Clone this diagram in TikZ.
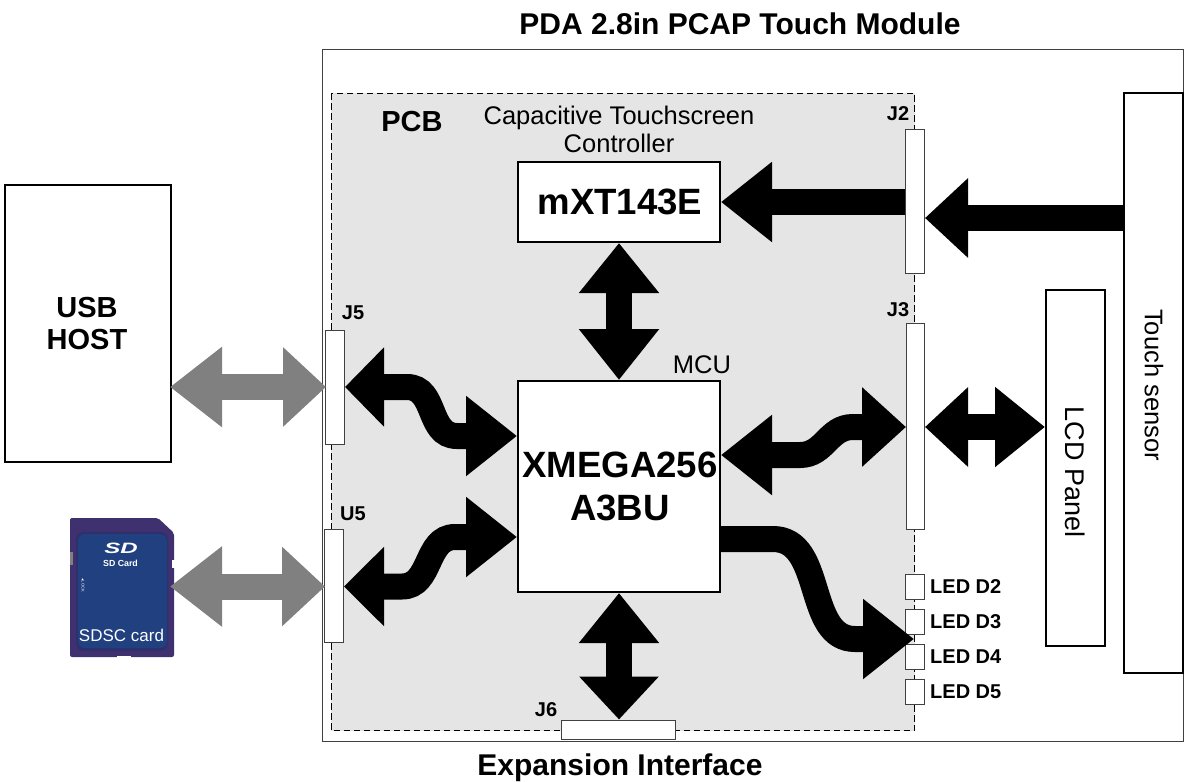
\documentclass[tikz,border=0pt]{standalone}
\usepackage{fontspec}
\setmainfont{Liberation Sans}
\newfontfamily\dejavu{DejaVu Sans}
\usetikzlibrary{arrows.meta}
\definecolor{pcbgray}{HTML}{E5E5E5}
\definecolor{sdout}{HTML}{3F3170}
\definecolor{sdrim}{HTML}{2F2F6B}
\definecolor{sdin}{HTML}{21407F}
\definecolor{fatgray}{HTML}{808080}
\tikzset{
  box/.style={draw=black,fill=white,line width=2pt,inner sep=0pt,align=center,anchor=north west},
  conn/.style={draw=black!75,fill=white,line width=1pt,inner sep=0pt,anchor=north west},
  biglabel/.style={font=\fontsize{36.6}{42.5}\bfseries\selectfont},
  lab/.style={font=\fontsize{20}{22}\bfseries\selectfont},
  plain/.style={font=\fontsize{25.5}{28}\selectfont,align=center},
  title/.style={font=\fontsize{30}{32}\bfseries\selectfont},
  fat/.style={line width=26pt,draw=black,line cap=butt},
  fatboth/.style 2 args={fat,{Triangle[length=#1pt,width=77pt]}-{Triangle[length=#2pt,width=77pt]}},
  fatone/.style={fat,-{Triangle[length=#1pt,width=77pt]}},
  fatgrey/.style={fatboth={52}{43},draw=fatgray}
}
\begin{document}
\begin{tikzpicture}[x=1pt,y=-1pt]
\useasboundingbox (0,0) rectangle (1184,782);
\coordinate (o1) at (322.5,49.5);
\coordinate (o2) at (1183.5,741.5);
\draw[black!75,line width=1pt] (o1) rectangle (o2);
\draw[dash pattern=on 6.5pt off 3.5pt,fill=pcbgray,line width=1pt] (331,93) rectangle (914.5,730.5);
% blocks
\node[box,minimum width=202pt,minimum height=80pt] (mxt) at (517,161) {};
\node[box,minimum width=202pt,minimum height=211pt] (mcu) at (517,380) {};
\node[biglabel] (mxttext) at (620,202) {mXT143E};
\node[biglabel,align=center] (mcutext) at (620,486.5) {XMEGA256\\A3BU};
\node[box,minimum width=166pt,minimum height=277pt] (usb) at (4,184) {};
\node[font=\fontsize{29}{32}\bfseries\selectfont,align=center] (usbtext) at (87,324) {USB\\HOST};
\node[box,minimum width=59pt,minimum height=356pt] (lcd) at (1045,289) {};
\node[box,minimum width=59pt,minimum height=580pt] (touch) at (1123,92) {};
\node[rotate=-90,font=\fontsize{27}{30}\selectfont] (lcdtext) at (1075,472) {LCD Panel};
\node[rotate=-90,plain] (touchtext) at (1154,385) {Touch sensor};
% connectors
\node[conn,minimum width=19pt,minimum height=144pt] (j2) at (905,129) {};
\node[conn,minimum width=18pt,minimum height=206pt] (j3) at (906,323) {};
\node[conn,minimum width=19pt,minimum height=114pt] (j5) at (325,329.5) {};
\node[conn,minimum width=19pt,minimum height=113pt] (u5) at (324,529) {};
\node[conn,minimum width=114pt,minimum height=19pt] (j6) at (561,719.5) {};
\node[conn,minimum width=19pt,minimum height=25pt] (d2) at (905,573.5) {};
\node[conn,minimum width=19pt,minimum height=25pt] (d3) at (905,608.5) {};
\node[conn,minimum width=19pt,minimum height=25pt] (d4) at (905,643.5) {};
\node[conn,minimum width=19pt,minimum height=25pt] (d5) at (905,678.5) {};
% SD card
\fill[sdout,rounded corners=2pt] (70,518) -- (158,518) -- (174,533) -- (174,657) -- (70,657) -- cycle;
\fill[white] (172,560) rectangle (175,568);
\fill[white] (117,656) rectangle (131,658);
\fill[fatgray] (70,552) rectangle (73,565);
\fill[sdrim,rounded corners=8pt] (76,532) rectangle (168,651);
\fill[sdin,rounded corners=7pt] (78,534) rectangle (167,648);
\node[text=white,inner sep=0pt,font=\fontsize{15}{16}\bfseries\itshape\selectfont] (sdlogo) at (121,548) {\scalebox{1.6}[1]{SD}};
\node[text=white,inner sep=0pt,font=\fontsize{8.8}{9}\bfseries\selectfont] (sdcard) at (120.5,563.5) {SD Card};
\node[text=white,inner sep=0pt,font=\fontsize{4}{5}\selectfont,rotate=-90] (lock) at (83,585) {{\dejavu ◂}\,LOCK};
\node[text=white,inner sep=0pt,font=\fontsize{17}{18}\selectfont] (sdsc) at (121.5,635) {SDSC card};
% fat arrows
\coordinate (sdr) at (170,586.5);
\coordinate (usbr) at (170,387);
\coordinate (j5r) at (326,387);
\coordinate (u5r) at (325,586.5);
\draw[fatgrey] (usbr) -- (j5r);
\draw[fatgrey] (sdr) -- (u5r);
\draw[fatone=43] (touch.west |- 0,218) -- (j2.east |- 0,218);
\draw[fatone=51] (j2.west |- 0,202) -- (mxt.east |- 0,202);
\draw[fatboth={50}{51}] (mxt.south) -- (mcu.north);
\draw[fatboth={50}{43}] (mcu.south) -- (mcu.south |- j6.north);
\draw[fatboth={43}{50}] (j3.east |- 0,427) -- (lcd.west |- 0,427);
\draw[fatboth={39}{51}] (j5.east |- 0,387) -- (407,387)
   .. controls (437,387) and (427,436) .. (457,436) -- (mcu.west |- 0,436);
\draw[fatboth={40}{51}] (u5.east |- 0,586.5) -- (402,586.5)
   .. controls (432,586.5) and (425,537) .. (455,537) -- (mcu.west |- 0,537);
\draw[fatboth={51}{44}] (mcu.east |- 0,455) -- (800,455)
   .. controls (825,455) and (828,427) .. (853,427) -- (j3.west |- 0,427);
\draw[fatone=51] (mcu.east |- 0,539) -- (773,539)
   .. controls (825,539) and (805,639) .. (855,639) -- (914,639);
% labels
\node[font=\fontsize{29}{32}\bfseries\selectfont] (pcb) at (412,122) {PCB};
\node[plain] (ctc) at (619,129) {Capacitive Touchscreen\\Controller};
\node[plain] (mculab) at (702,365) {MCU};
\node[title] (t1) at (740,24) {PDA 2.8in PCAP Touch Module};
\node[title] (t2) at (620,768) {Expansion Interface};
\node[lab] (lj2) at (898,114) {J2};
\node[lab] (lj3) at (898,310) {J3};
\node[lab] (lj5) at (353,313) {J5};
\node[lab] (lu5) at (353,514) {U5};
\node[lab] (lj6) at (546,710) {J6};
\node[lab,anchor=west,inner sep=0pt] (ld2) at (930,587) {LED D2};
\node[lab,anchor=west,inner sep=0pt] (ld3) at (930,622) {LED D3};
\node[lab,anchor=west,inner sep=0pt] (ld4) at (930,657) {LED D4};
\node[lab,anchor=west,inner sep=0pt] (ld5) at (930,692) {LED D5};
\end{tikzpicture}
\end{document}
